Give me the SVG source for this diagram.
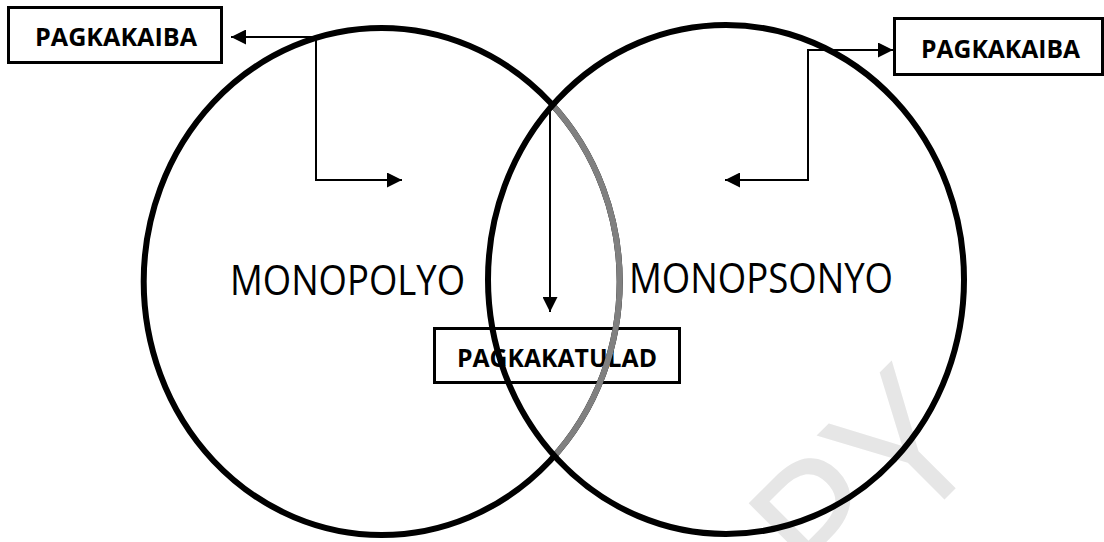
<svg xmlns="http://www.w3.org/2000/svg" width="1104" height="542" viewBox="0 0 1104 542">
  <style>
    .box { fill: none; stroke: #000; stroke-width: 3; }
    .lbl { font-family: "Open Sans", "Liberation Sans", sans-serif; font-weight: 700; font-size: 25px; fill: #000; }
    .big { font-family: "Open Sans", "Liberation Sans", sans-serif; font-weight: 400; font-size: 42px; fill: #000; }
    .conn { fill: none; stroke: #000; stroke-width: 2; }
    .ring { fill: none; stroke: #000; stroke-width: 6; }
  </style>
  <defs>
    <marker id="arrow" markerUnits="userSpaceOnUse" markerWidth="15" markerHeight="15" refX="15" refY="7.5" orient="auto">
      <path d="M0,0 L15,7.5 L0,15 Z" fill="#000"/>
    </marker>
    <clipPath id="insideRight">
      <ellipse cx="726" cy="279.5" rx="238" ry="254.5"/>
    </clipPath>
  </defs>
  <rect width="1104" height="542" fill="#fff"/>

  <text transform="rotate(-45)" x="155" y="1021" font-family="Open Sans, Liberation Sans, sans-serif" font-size="190" fill="#e6e6e6">PY</text>

  <g id="node-pagkakatulad">
    <rect class="box" x="434.5" y="328.5" width="245" height="54"/>
    <text class="lbl" x="457" y="367" textLength="200" lengthAdjust="spacingAndGlyphs">PAGKAKATULAD</text>
  </g>

  <g id="node-monopolyo">
    <ellipse class="ring" cx="381.7" cy="281.5" rx="238" ry="253.5"/>
    <ellipse cx="381.7" cy="281.5" rx="238" ry="253.5" fill="none" stroke="#808080" stroke-width="6" clip-path="url(#insideRight)"/>
    <text class="big" x="230" y="295" textLength="235" lengthAdjust="spacingAndGlyphs">MONOPOLYO</text>
  </g>

  <g id="node-monopsonyo">
    <ellipse class="ring" cx="726" cy="279.5" rx="238" ry="254.5"/>
    <text class="big" x="629" y="293" textLength="264" lengthAdjust="spacingAndGlyphs">MONOPSONYO</text>
  </g>

  <g id="node-pagkakaiba-left">
    <rect class="box" x="8.5" y="7.5" width="213" height="55"/>
    <text class="lbl" x="35" y="46" textLength="162" lengthAdjust="spacingAndGlyphs">PAGKAKAIBA</text>
  </g>

  <g id="node-pagkakaiba-right">
    <rect class="box" x="894.5" y="18.5" width="208" height="56"/>
    <text class="lbl" x="921" y="58" textLength="159" lengthAdjust="spacingAndGlyphs">PAGKAKAIBA</text>
  </g>

  <g id="connectors">
    <path class="conn" d="M316,37 H231" marker-end="url(#arrow)"/>
    <path class="conn" d="M316,36 V180 H402" marker-end="url(#arrow)"/>
    <path class="conn" d="M808,50 H893" marker-end="url(#arrow)"/>
    <path class="conn" d="M808,49 V180 H725" marker-end="url(#arrow)"/>
    <path class="conn" d="M550,101 V312" marker-end="url(#arrow)"/>
  </g>
</svg>
